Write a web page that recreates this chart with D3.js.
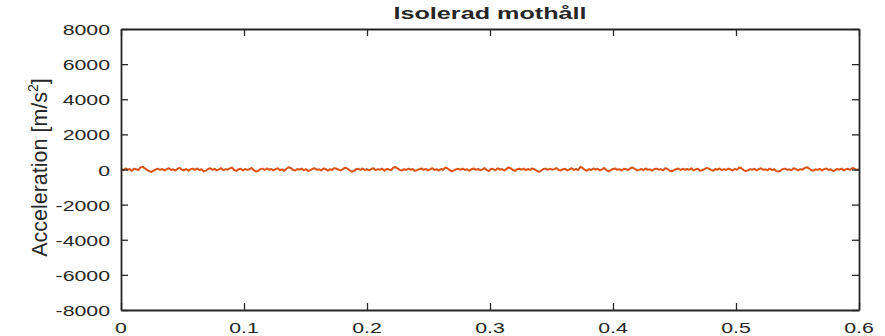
<!DOCTYPE html>
<html>
<head>
<meta charset="utf-8">
<script src="https://cdn.jsdelivr.net/npm/d3@7"></script>
<style>
body { margin: 0; background: #fff; }
text { font-family: "Liberation Sans", Arial, sans-serif; fill: #262626; }
</style>
</head>
<body>
<svg id="chart" width="885" height="336"></svg>
<script>
const title = "Isolerad mothåll";
const yLabel = "Acceleration [m/s";
const xTicks = [0, 0.1, 0.2, 0.3, 0.4, 0.5, 0.6];
const yTicks = [-8000, -6000, -4000, -2000, 0, 2000, 4000, 6000, 8000];
const xDomain = [0, 0.6];
const yDomain = [-8000, 8000];
// acceleration samples (m/s^2), evenly spaced over 0..0.6 s
const accel = [
  20,-40,60,-10,30,-80,40,10,-30,120,150,60,-20,-90,-140,-60,10,40,-20,30,
  -50,20,70,-30,10,-60,40,90,-10,-40,30,-70,20,50,-20,60,-30,10,-110,-60,
  30,70,-20,40,-50,10,80,-40,20,-10,60,110,-30,-80,20,40,-60,30,-20,10,
  90,-40,-120,-70,20,50,-30,60,-10,30,-50,20,70,-40,10,-80,40,130,80,-20,
  -60,30,-10,50,-40,20,-90,-30,40,70,-20,10,-50,60,30,-70,20,-30,80,40,
  -10,-60,30,100,50,-40,-130,-80,20,40,-20,60,-30,10,-50,30,70,-40,20,-10,
  50,-70,30,10,-40,90,140,60,-20,-60,20,-30,50,-10,30,-80,-40,20,60,-20,
  40,-50,10,70,-30,20,-60,30,-10,110,60,-40,-100,-50,20,40,-20,50,-30,10,
  -70,20,60,-20,30,-40,10,80,-30,-90,40,20,-50,70,-10,30,-60,20,120,70,
  -30,-80,20,40,-10,50,-40,30,-20,60,10,-70,-130,-60,30,50,-20,40,-10,20,
  80,-30,-60,20,40,-50,10,70,-20,30,-40,150,90,-20,-70,20,-30,60,-10,40,
  -50,10,90,-30,-100,-40,30,60,-20,20,-60,40,10,-30,70,110,40,-50,-20,30,
  -40,60,-20,10,-70,30,50,-10,20,-50,80,30,-60,-110,-40,20,60,-30,40,-10,
  30,-20,70,-50,10,40,-80,-30,20,90,50,-20,-70,30,-10,60,-40,20,-30,50,
  10,-60,40,-20,120,70,-30,-90,-50,20,-10,40,-60,30,70,-20,10,-40,60,-30,
  20,-80,-120,-60,30,50,-20,10,-40,70,30,-50,20,-10,80,130,60,-30,-70,10,
  -20,40,-50,20,60,-30,10,-90,-40,30,-10,50,-60,20,40,-20,90,40,-30,10
];

const svg = d3.select("#chart");
const L = 121, R = 859, T = 29, B = 310;
const x = d3.scaleLinear().domain(xDomain).range([L, R]);
const y = d3.scaleLinear().domain(yDomain).range([B, T]);
const n = accel.length;
const t = accel.map((v, i) => xDomain[0] + (xDomain[1] - xDomain[0]) * i / (n - 1));

// data line
const line = d3.line().x((d, i) => x(t[i])).y(d => y(d));
svg.append("path").datum(accel)
  .attr("d", line).attr("fill", "none")
  .attr("stroke", "#D95319").attr("stroke-width", 2)
  .attr("stroke-linejoin", "round");

// axes box
const axisColor = "#262626";
const tickLen = 7;
const g = svg.append("g");
g.append("g").attr("transform", `translate(0,${B})`)
  .call(d3.axisBottom(x).tickValues(xTicks).tickSizeInner(-tickLen).tickSizeOuter(0).tickFormat(""));
g.append("g").attr("transform", `translate(0,${T})`)
  .call(d3.axisTop(x).tickValues(xTicks).tickSizeInner(-tickLen).tickSizeOuter(0).tickFormat(""));
g.append("g").attr("transform", `translate(${L},0)`)
  .call(d3.axisLeft(y).tickValues(yTicks).tickSizeInner(-tickLen).tickSizeOuter(0).tickFormat(""));
g.append("g").attr("transform", `translate(${R},0)`)
  .call(d3.axisRight(y).tickValues(yTicks).tickSizeInner(-tickLen).tickSizeOuter(0).tickFormat(""));
g.selectAll("path.domain").attr("stroke", axisColor).attr("stroke-width", 1.8);
g.selectAll(".tick line").attr("stroke", axisColor).attr("stroke-width", 1.3);

// tick labels (horizontally stretched like reference)
const sx = 1.42;
svg.append("g").selectAll("text").data(xTicks).join("text")
  .attr("transform", d => `translate(${x(d)},333) scale(${sx},1)`)
  .attr("text-anchor", "middle").attr("font-size", 15)
  .text(d => d3.format("")(d));
svg.append("g").selectAll("text").data(yTicks).join("text")
  .attr("transform", d => `translate(110,${y(d) + 6}) scale(${sx},1)`)
  .attr("text-anchor", "end").attr("font-size", 15)
  .text(d => String(d));

// title
svg.append("text").attr("x", 490).attr("y", 19)
  .attr("text-anchor", "middle").attr("font-size", 16).attr("font-weight", "bold")
  .attr("fill", "#000")
  .attr("textLength", 193).attr("lengthAdjust", "spacingAndGlyphs")
  .text(title);

// y label
const yl = svg.append("text")
  .attr("transform", `translate(47,${(T + B) / 2 - 2}) rotate(-90)`)
  .attr("text-anchor", "middle").attr("font-size", 21.5);
yl.append("tspan").text(yLabel);
yl.append("tspan").attr("font-size", 14).attr("dy", -9).text("2");
yl.append("tspan").attr("dy", 9).text("]");
</script>
</body>
</html>
